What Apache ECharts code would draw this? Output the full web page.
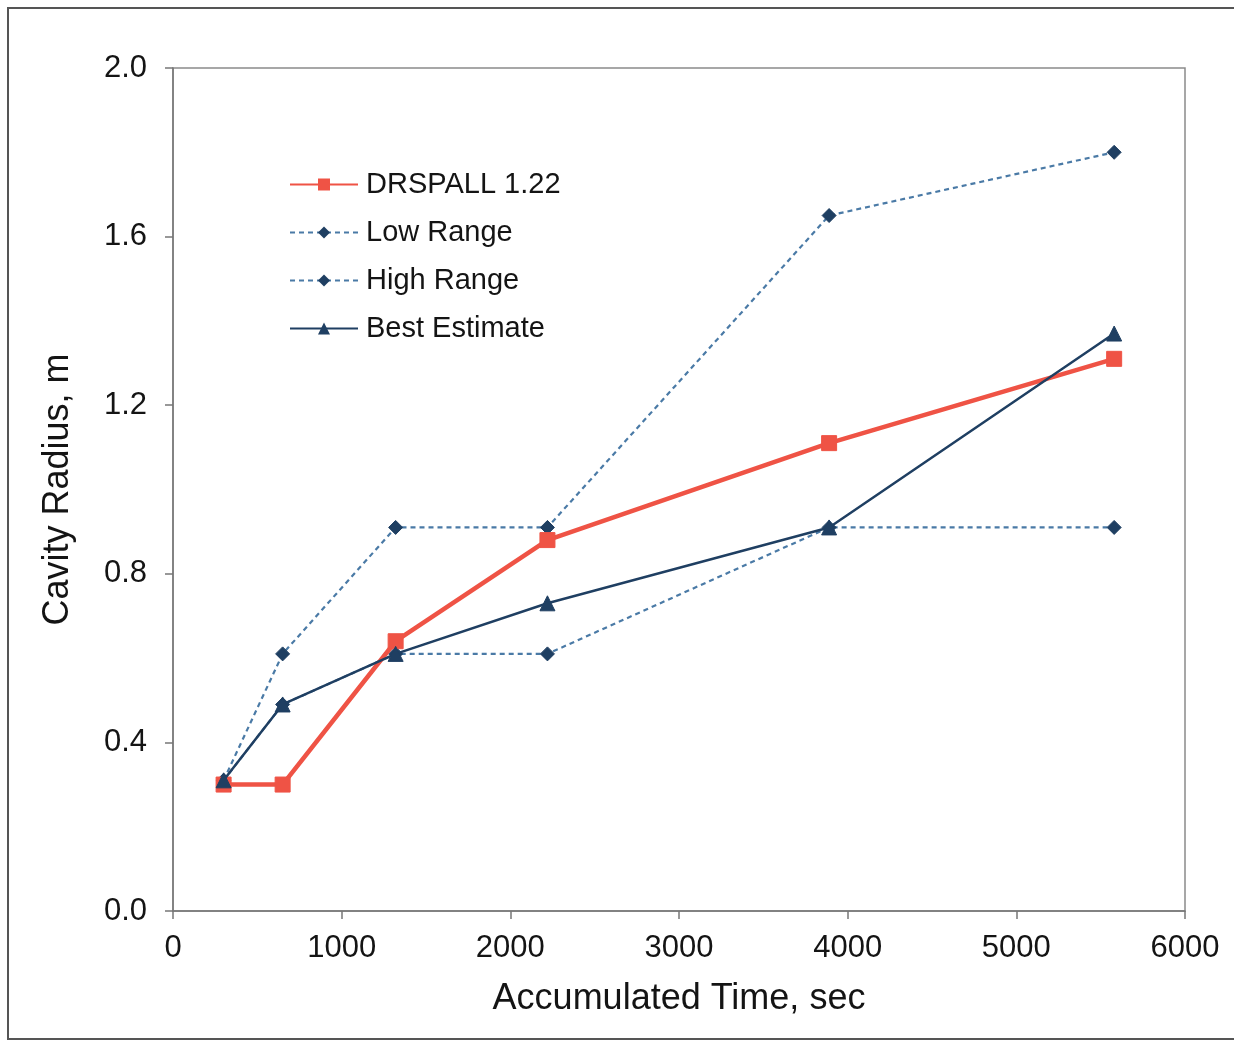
<!DOCTYPE html>
<html>
<head>
<meta charset="utf-8">
<script src="https://cdn.jsdelivr.net/npm/echarts@6/dist/echarts.min.js"></script>
<style>
  html, body { margin: 0; padding: 0; background: #fff; }
  #chart { width: 1234px; height: 1042px; }
</style>
</head>
<body>
<div id="chart"></div>
<script>
// Accumulated time (sec) at which each cavity radius was evaluated
const times = [300, 650, 1320, 2220, 3890, 5580];

// Cavity radius (m) for each case
const drspall = [0.30, 0.30, 0.64, 0.88, 1.11, 1.31];
const lowRange = [0.31, 0.49, 0.61, 0.61, 0.91, 0.91];
const highRange = [0.31, 0.61, 0.91, 0.91, 1.65, 1.80];
const bestEstimate = [0.31, 0.49, 0.61, 0.73, 0.91, 1.37];

const seriesNames = ['DRSPALL 1.22', 'Low Range', 'High Range', 'Best Estimate'];

const pair = vals => times.map((t, i) => [t, vals[i]]);

const font = '"Liberation Sans", Arial, sans-serif';
const textColor = '#141414';
const dashBlue = '#4a7aa6';
const navy = '#1f3f62';

const chart = echarts.init(document.getElementById('chart'));
chart.setOption({
  animation: false,
  backgroundColor: '#fff',
  graphic: [{
    type: 'rect',
    shape: { x: 8, y: 8, width: 1240, height: 1031 },
    style: { fill: null, stroke: '#555', lineWidth: 2 },
    silent: true
  }],
  grid: {
    left: 173, right: 49, top: 68, bottom: 131,
    show: true, borderColor: '#8a8a8a', borderWidth: 1.5
  },
  legend: {
    orient: 'vertical',
    left: 284, top: 165,
    itemWidth: 68, itemHeight: 15, itemGap: 19,
    data: seriesNames,
    textStyle: { fontFamily: font, fontSize: 29, color: textColor, padding: [0, 0, 0, 3] }
  },
  xAxis: {
    type: 'value',
    min: 0, max: 6000, interval: 1000,
    name: 'Accumulated Time, sec',
    nameLocation: 'middle', nameGap: 70,
    nameTextStyle: { fontFamily: font, fontSize: 36, color: textColor },
    axisLine: { show: true, onZero: false, lineStyle: { color: '#777', width: 1.5 } },
    axisTick: { show: true, inside: false, length: 8, lineStyle: { color: '#777', width: 1.5 } },
    axisLabel: { margin: 22, fontFamily: font, fontSize: 31, color: textColor, formatter: v => String(v) },
    splitLine: { show: false }
  },
  yAxis: {
    type: 'value',
    min: 0, max: 2.0, interval: 0.4,
    name: 'Cavity Radius, m',
    nameLocation: 'middle', nameGap: 97,
    nameTextStyle: { fontFamily: font, fontSize: 36, color: textColor },
    axisLine: { show: true, lineStyle: { color: '#777', width: 1.5 } },
    axisTick: { show: true, inside: false, length: 8, lineStyle: { color: '#777', width: 1.5 } },
    axisLabel: {
      margin: 26, fontFamily: font, fontSize: 31, color: textColor,
      formatter: v => v.toFixed(1)
    },
    splitLine: { show: false }
  },
  series: [
    {
      name: seriesNames[1], type: 'line', data: pair(lowRange),
      symbol: 'diamond', symbolSize: 14,
      lineStyle: { color: dashBlue, width: 2.2, type: [5, 4] },
      itemStyle: { color: navy, borderColor: navy },
      z: 2
    },
    {
      name: seriesNames[2], type: 'line', data: pair(highRange),
      symbol: 'diamond', symbolSize: 14,
      lineStyle: { color: dashBlue, width: 2.2, type: [5, 4] },
      itemStyle: { color: navy, borderColor: navy },
      z: 2
    },
    {
      name: seriesNames[0], type: 'line', data: pair(drspall),
      symbol: 'rect', symbolSize: 15,
      lineStyle: { color: '#ef5345', width: 4.5 },
      itemStyle: { color: '#ef5345', borderColor: '#ef5345' },
      z: 3
    },
    {
      name: seriesNames[3], type: 'line', data: pair(bestEstimate),
      symbol: 'triangle', symbolSize: 15,
      lineStyle: { color: navy, width: 2.5 },
      itemStyle: { color: navy, borderColor: navy },
      z: 4
    }
  ]
});
</script>
</body>
</html>
